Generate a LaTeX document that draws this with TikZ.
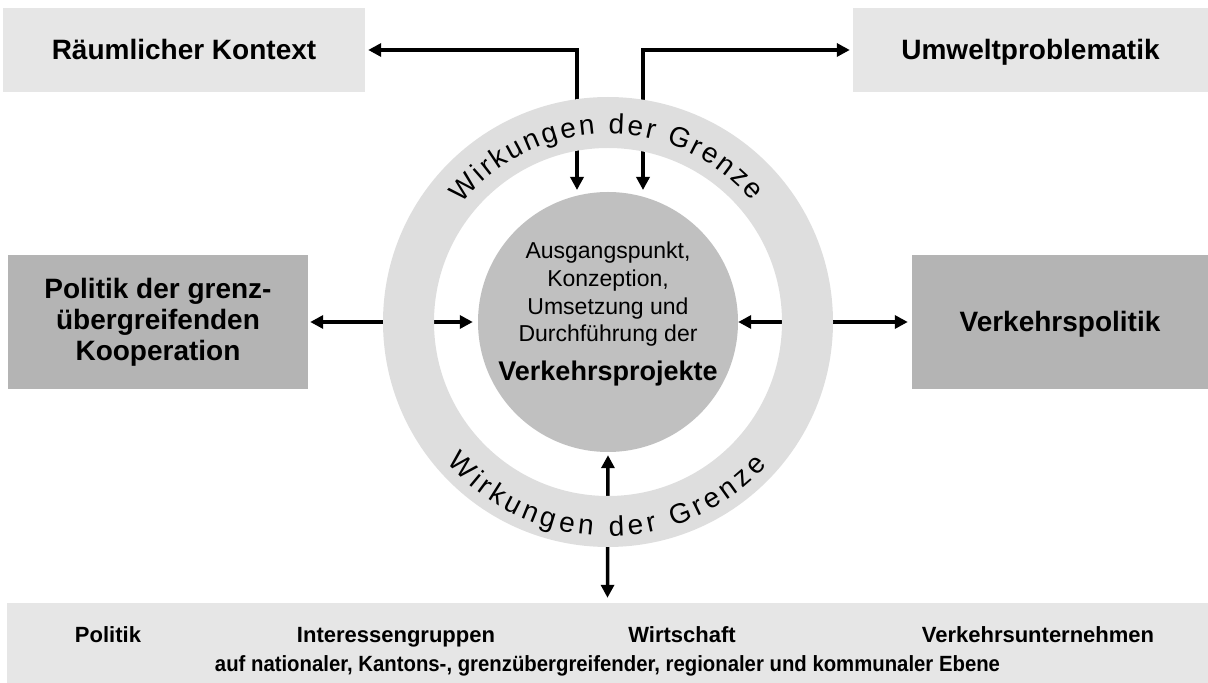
\documentclass[tikz,border=0pt]{standalone}
\usepackage{fontspec}
\usepackage{graphicx}
\setmainfont{Liberation Sans}
\usetikzlibrary{arrows.meta,decorations.text,calc}
\definecolor{cLight}{HTML}{E6E6E6}
\definecolor{cDark}{HTML}{B4B4B4}
\definecolor{cRing}{HTML}{DEDEDE}
\definecolor{cCore}{HTML}{C0C0C0}
\newcommand\myringfont{\fontsize{28}{28}\selectfont}
\begin{document}
\begin{tikzpicture}[x=1pt,y=1pt,
  topbox/.style={fill=cLight, inner sep=0pt, minimum height=84pt, text height=20pt, text depth=0pt, font=\fontsize{28}{31}\selectfont\bfseries},
  sidebox/.style={fill=cDark, inner sep=0pt, minimum height=134pt, align=center, font=\fontsize{28}{31}\selectfont\bfseries},
  btext/.style={inner sep=0pt, anchor=base, font=\fontsize{22}{26}\selectfont\bfseries},
  con/.style={line width=3.5pt, {Triangle[length=13pt,width=13pt]}-{Triangle[length=13pt,width=13pt]}},
  ringtext/.style={decorate, decoration={text along path, text={|\myringfont|Wirkungen der Grenze}, text align={fit to path}}}
]
\useasboundingbox (0,0) rectangle (1208,683);

% boxes
\node[topbox, minimum width=362pt] (rk) at (184,633) {Räumlicher Kontext};
\node[topbox, minimum width=355pt] (um) at (1030.5,633) {Umweltproblematik};
\node[sidebox, minimum width=300pt] (pol) at (158,361) {Politik der grenz-\\übergreifenden\\Kooperation};
\node[sidebox, minimum width=296pt, text height=20pt, text depth=0pt] (vp) at (1060,361) {Verkehrspolitik};
\node[fill=cLight, inner sep=0pt, minimum width=1201pt, minimum height=80pt] (bot) at (607.5,40) {};

% core circle
\node[circle, fill=cCore, inner sep=0pt, minimum size=260pt] (c) at (608,361) {};

% free ends of the top connectors
\coordinate (t1) at (577,493);
\coordinate (t2) at (643,493);

% connectors
\draw[con] (t1) |- ([xshift=3pt]rk.east);
\draw[con] (t2) |- ([xshift=-3pt]um.west);
\draw[con] ([xshift=2pt]pol.east) -- ([xshift=-5pt]c.west);
\draw[con] (c.east) -- ([xshift=-4pt]vp.west);
\draw[con] ([yshift=-3pt]c.south) -- ([yshift=5pt]bot.north);

% ring
\fill[cRing, even odd rule] (c.center) circle[radius=225] (c.center) circle[radius=174];
\path[ringtext] ($(c.center)+(141:188)$) arc[start angle=141, end angle=40, radius=188];
\path[ringtext] ($(c.center)+(221:214)$) arc[start angle=221, end angle=318, radius=214];

% core text
\node[anchor=north, align=center, inner sep=0pt, font=\fontsize{23}{27.6}\selectfont] (ct) at (608,441)
  {Ausgangspunkt,\\Konzeption,\\Umsetzung und\\Durchführung der\\[11.4pt]{\fontsize{27}{32}\selectfont\bfseries Verkehrsprojekte}};

% bottom texts
\node[btext] (b1) at (108,40) {Politik};
\node[btext] (b2) at (396,40) {Interessengruppen};
\node[btext] (b3) at (682,40) {Wirtschaft};
\node[btext] (b4) at (1038,40) {Verkehrsunternehmen};
\node[btext] (b5) at (607.5,12) {\resizebox{785pt}{\height}{auf nationaler, Kantons-, grenzübergreifender, regionaler und kommunaler Ebene}};
\end{tikzpicture}
\end{document}
